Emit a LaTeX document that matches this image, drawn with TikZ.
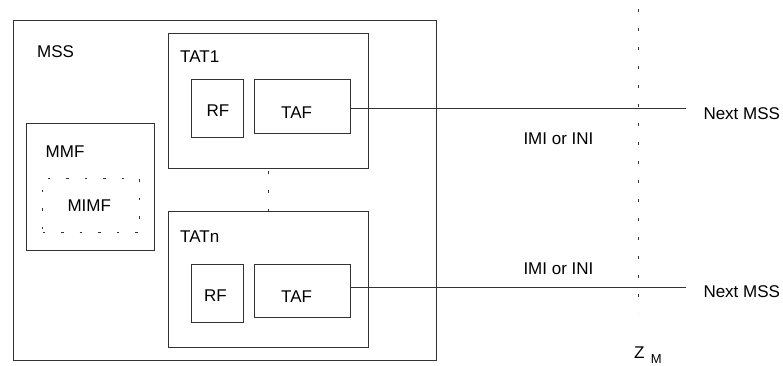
\documentclass[tikz,border=0pt]{standalone}
\usepackage{fontspec}
\setmainfont{Liberation Sans}
\begin{document}
\begin{tikzpicture}[x=1pt,y=-1pt,
  box/.style={draw=black!80,line width=1pt,inner sep=0pt,anchor=north west},
  lbl/.style={inner sep=0pt,anchor=base west,font=\fontsize{17}{20}\selectfont},
  sublbl/.style={inner sep=0pt,anchor=base west,font=\fontsize{13}{15}\selectfont},
  link/.style={draw=black!80,line width=1pt},
  dotline/.style={draw=black!80,line width=1pt,dash pattern=on 3pt off 16pt},
  dotbox/.style={draw=black!80,line width=1pt,dash pattern=on 2.5pt off 16pt,inner sep=0pt,anchor=north west}]
\useasboundingbox (0,0) rectangle (783,365);

% switching system and its functional blocks
\node[box,minimum width=423pt,minimum height=340pt] (mss) at (12.5,20) {};
\node[box,minimum width=200pt,minimum height=135.5pt] (tat1) at (167.5,32.5) {};
\node[box,minimum width=200pt,minimum height=136pt] (tatn) at (167.5,211) {};
\node[box,minimum width=52pt,minimum height=58pt] (rf1) at (191,79) {};
\node[box,minimum width=96pt,minimum height=54pt] (taf1) at (254,79) {};
\node[box,minimum width=52.5pt,minimum height=58pt] (rf2) at (190.5,264) {};
\node[box,minimum width=96pt,minimum height=53pt] (taf2) at (253.5,264) {};
\node[box,minimum width=128pt,minimum height=127pt] (mmf) at (25.5,122.5) {};
\node[dotbox,minimum width=97pt,minimum height=54pt] (mimf) at (42,178) {};

% labels
\node[lbl] (tmss) at (37,57.3) {MSS};
\node[lbl] (ttat1) at (180,62.3) {TAT1};
\node[lbl] (ttatn) at (180,242.3) {TATn};
\node[lbl] (trf1) at (206.5,116) {RF};
\node[lbl] (ttaf1) at (281,118.3) {TAF};
\node[lbl] (trf2) at (204,301.7) {RF};
\node[lbl] (ttaf2) at (281,302.7) {TAF};
\node[lbl] (tmmf) at (45.5,157.7) {MMF};
\node[lbl] (tmimf) at (67.3,211) {MIMF};
\node[lbl] (imi1) at (523.3,144) {IMI or INI};
\node[lbl] (imi2) at (523.3,274) {IMI or INI};
\node[lbl] (next1) at (703.3,119) {Next MSS};
\node[lbl] (next2) at (703.3,297.3) {Next MSS};
\node[lbl] (zlab) at (634,358.3) {Z};
\node[sublbl] (mlab) at (650.7,363.3) {M};

% reference point line and connections
\coordinate (zt) at (638.3,9);
\coordinate (zb) at (638.3,313);
\draw[dotline] (zt) -- (zb);
\draw[dotline,dash phase=-2pt] (tat1.south) -- (tatn.north);

\coordinate (e1) at (685.7,108.7);
\coordinate (e2) at (685.7,287.3);
\draw[link] (taf1.east |- e1) -- (e1);
\draw[link] (taf2.east |- e2) -- (e2);
\end{tikzpicture}
\end{document}
